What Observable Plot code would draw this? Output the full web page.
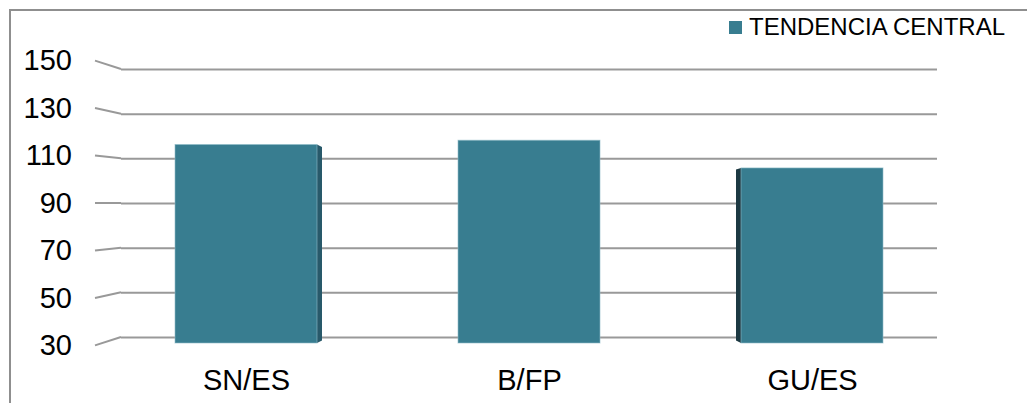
<!DOCTYPE html>
<html><head><meta charset="utf-8">
<script src="https://cdn.jsdelivr.net/npm/d3@7"></script>
<script src="https://cdn.jsdelivr.net/npm/@observablehq/plot@0.6"></script>
<style>
body{margin:0;background:#fff;font-family:"Liberation Sans",Arial,sans-serif;}
#wrap{position:relative;width:1027px;height:403px;overflow:hidden;background:#fff;}
#border{position:absolute;left:9px;top:9px;width:1100px;height:500px;border-left:2px solid #8f8f8f;border-top:2px solid #8f8f8f;pointer-events:none;}
#legend{position:absolute;left:729px;top:15px;font-size:24px;line-height:24px;display:flex;align-items:center;color:#000;white-space:nowrap;}
#legend .sw{display:inline-block;width:13px;height:13px;background:#387d90;margin-right:7px;}
</style></head><body>
<div id="wrap"><div id="chart"></div><div id="border"></div><div id="legend"><span class="sw"></span><span id="legtext"></span></div></div>
<script>
const categories = ["SN/ES", "B/FP", "GU/ES"];
const values = [116.2, 118.1, 105.7];
const yTicks = [30, 50, 70, 90, 110, 130, 150];
const seriesName = "TENDENCIA CENTRAL";
const yMin = 30, yMax = 150;

const data = categories.map((c, i) => ({cat: c, value: values[i]}));
document.getElementById("legtext").textContent = seriesName;

const k = 47.5 / 44.7;   // perspective spread of the axis wall
const pivot = 90;
const frontColor = "#387d90";

function perspective(...args) {
  const scales = args.find(a => a && typeof a.y === "function" && typeof a.x === "function");
  const dims = args.find(a => a && typeof a.width === "number" && "marginLeft" in a);
  const g = d3.create("svg:g");
  const x = scales.x, y = scales.y;
  const left = dims.marginLeft, right = dims.width - dims.marginRight;
  for (const v of yTicks) {
    g.append("line")
      .attr("x1", left - 9.5).attr("y1", y(pivot + (v - pivot) * k))
      .attr("x2", left + 16.5).attr("y2", y(v))
      .attr("stroke", "#999").attr("stroke-width", 2);
  }
  const center = (left + right) / 2;
  const bw = x.bandwidth();
  const yBot = y(yMin) + 6;
  for (const d of data) {
    const bx = x(d.cat);
    const cx = bx + bw / 2;
    const yTop = y(d.value);
    if (cx < center - 20) {
      const ex = bx + bw;
      g.append("polygon")
        .attr("points", [[ex, yTop], [ex + 5, yTop + 2.5], [ex + 5, yBot - 2.5], [ex, yBot]].map(p => p.join(",")).join(" "))
        .attr("fill", "#28596a");
    } else if (cx > center + 20) {
      g.append("polygon")
        .attr("points", [[bx, yTop], [bx - 5, yTop + 1.5], [bx - 5, yBot - 2.5], [bx, yBot]].map(p => p.join(",")).join(" "))
        .attr("fill", "#1c3942");
    }
  }
  return g.node();
}

const plot = Plot.plot({
  width: 1027,
  height: 403,
  marginTop: 69,
  marginBottom: 66,
  marginLeft: 104.5,
  marginRight: 73.5,
  x: {domain: categories, paddingInner: 0.5, paddingOuter: 0.25, axis: null},
  y: {domain: [yMin, yMax], axis: null},
  style: {fontFamily: "'Liberation Sans', Arial, sans-serif", background: "transparent", overflow: "visible"},
  marks: [
    Plot.ruleY(yTicks, {stroke: "#999", strokeWidth: 2, insetLeft: 16.5, insetRight: 16.5}),
    perspective,
    Plot.text(yTicks, {
      y: d => pivot + (d - pivot) * k, text: d => String(d),
      frameAnchor: "left", textAnchor: "end", dx: -33, fontSize: 29, fill: "#000"
    }),
    Plot.barY(data, {
      x: "cat", y1: yMin, y2: "value", fill: frontColor, insetBottom: -6,
      stroke: "#8fbcc8", strokeWidth: 1, strokeOpacity: 0.6
    }),
    Plot.text(categories, {
      x: d => d, text: d => d, frameAnchor: "bottom", lineAnchor: "top",
      dy: 32, fontSize: 29, fill: "#000"
    })
  ]
});
document.getElementById("chart").appendChild(plot);
</script>
</body></html>
